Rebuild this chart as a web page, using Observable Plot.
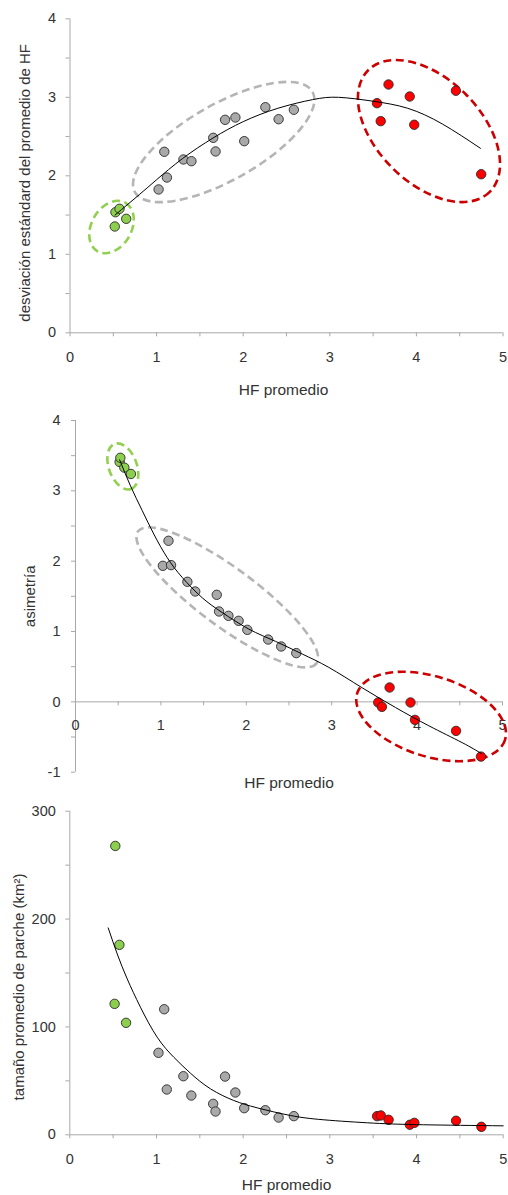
<!DOCTYPE html>
<html>
<head>
<meta charset="utf-8">
<script src="https://cdn.jsdelivr.net/npm/d3@7"></script>
<script src="https://cdn.jsdelivr.net/npm/@observablehq/plot@0.6"></script>
<style>
  body { margin: 0; background: #fff; }
  #c { width: 508px; }
  #c > svg { display: block; }
</style>
</head>
<body>
<div id="c"></div>
<script>
// ---------- data ----------
const grupos = ["verde","verde","verde","verde",
  "gris","gris","gris","gris","gris","gris","gris","gris","gris","gris","gris","gris","gris",
  "rojo","rojo","rojo","rojo","rojo","rojo","rojo"];
const hfPromedio = [0.517, 0.525, 0.572, 0.649,
  1.023, 1.089, 1.119, 1.310, 1.402, 1.654, 1.681, 1.791, 1.910, 2.012, 2.256, 2.409, 2.585,
  3.545, 3.588, 3.678, 3.923, 3.975, 4.456, 4.748];
const desviacion = [1.354, 1.536, 1.580, 1.452,
  1.826, 2.306, 1.978, 2.208, 2.186, 2.484, 2.310, 2.713, 2.743, 2.441, 2.874, 2.721, 2.841,
  2.925, 2.696, 3.163, 3.010, 2.650, 3.083, 2.020];
const asimetria = [3.41, 3.47, 3.33, 3.24,
  1.934, 2.290, 1.944, 1.707, 1.569, 1.522, 1.285, 1.223, 1.152, 1.024, 0.886, 0.787, 0.693,
  -0.009, -0.071, 0.204, -0.009, -0.256, -0.413, -0.778];
const tamano = [121.4, 267.8, 176.1, 103.8,
  76.0, 116.4, 42.0, 54.3, 36.4, 28.7, 21.6, 54.0, 39.2, 24.7, 22.8, 16.0, 17.3,
  17.3, 17.9, 13.9, 9.3, 11.1, 13.0, 7.4];

// trend lines
const tend1X = [0.52, 0.8, 1.0, 1.3, 1.65, 2.0, 2.4, 2.8, 3.1, 3.5, 3.9, 4.3, 4.74];
const tend1Y = [1.50, 1.76, 1.95, 2.22, 2.48, 2.69, 2.86, 2.97, 3.00, 2.95, 2.86, 2.66, 2.35];
const tend2X = [0.517, 0.644, 0.781, 0.917, 1.074, 1.249, 1.484, 1.718, 2.029, 2.342, 2.655, 2.966, 3.357, 3.747, 4.137, 4.528, 4.76];
const tend2Y = [3.44, 3.07, 2.72, 2.385, 2.05, 1.77, 1.48, 1.27, 1.035, 0.86, 0.68, 0.49, 0.20, -0.08, -0.34, -0.58, -0.74];
const tend3X = [0.443, 0.547, 0.662, 0.815, 1.008, 1.2, 1.392, 1.623, 1.892, 2.162, 2.546, 2.93, 3.506, 4.083, 5.0];
const tend3Y = [191.8, 167.7, 144.6, 118.3, 90.5, 71.9, 57.1, 42.6, 31.8, 25.0, 17.9, 13.9, 10.8, 9.3, 8.3];

// group ellipses: centres in data units
const elipses1 = [{grupo: "verde", x: 0.485, y: 1.341}, {grupo: "gris", x: 1.781, y: 2.424}, {grupo: "rojo", x: 4.151, y: 2.564}];
const elipses2 = [{grupo: "verde", x: 0.56, y: 3.34}, {grupo: "gris", x: 1.783, y: 1.479}, {grupo: "rojo", x: 4.17, y: -0.215}];

const xMajor = [0, 1, 2, 3, 4, 5];
const xMinor = [0, 0.5, 1, 1.5, 2, 2.5, 3, 3.5, 4, 4.5, 5];

// ---------- styles ----------
const FONT = '"Liberation Sans", Arial, Helvetica, sans-serif';
const AXIS = "#a8a8a8";
const INK = "#333";
const colorScale = {domain: ["verde", "gris", "rojo"], range: ["#8ccf4d", "#a9a9a9", "#ff0000"]};
const elipseColor = {verde: "#92d050", gris: "#b5b5b5", rojo: "#cc0000"};
const forma1 = [{rx: 28, ry: 20, rot: -60}, {rx: 102, ry: 38, rot: -29.5}, {rx: 86, ry: 52, rot: 45}];
const forma2 = [{rx: 24, ry: 14, rot: 70}, {rx: 111, ry: 29, rot: 36.5}, {rx: 77.5, ry: 40, rot: 17.5}];

const datos = hfPromedio.map((hf, i) => ({grupo: grupos[i], hf, sd: desviacion[i], asim: asimetria[i], tam: tamano[i]}));
const serie = (xs, ys) => xs.map((x, i) => ({x, y: ys[i]}));

function elipses(items, formas) {
  return (index, scales) => {
    const g = d3.create("svg:g")
      .attr("fill", "none")
      .attr("stroke-width", 2.6)
      .attr("stroke-dasharray", "8,4.5");
    items.forEach((e, i) => {
      const f = formas[i];
      g.append("ellipse")
        .attr("transform", `translate(${scales.x(e.x)},${scales.y(e.y)}) rotate(${f.rot})`)
        .attr("rx", f.rx)
        .attr("ry", f.ry)
        .attr("stroke", elipseColor[e.grupo]);
    });
    return g.node();
  };
}

const baseStyle = {fontFamily: FONT, fontSize: "14.5px", color: INK, background: "#fff", overflow: "visible"};
const dotOpts = (y) => ({x: "hf", y, fill: "grupo", stroke: "#2a2a2a", strokeWidth: 0.9, r: 4.7});
const lineOpts = {x: "x", y: "y", curve: "natural", stroke: "#000", strokeWidth: 1};
const yTitle = (t, dx, dy) => Plot.text([t], {text: d => d, frameAnchor: "left", textAnchor: "middle", lineAnchor: "middle", dx, dy, rotate: -90, fontSize: 15, fill: INK});
const xTitle = (dx, dy) => Plot.text(["HF promedio"], {text: d => d, frameAnchor: "bottom", textAnchor: "middle", lineAnchor: "middle", dx, dy, fontSize: 15.5, fill: INK});

// ---------- panel 1 ----------
const p1 = Plot.plot({
  width: 508, height: 400,
  marginLeft: 69.5, marginRight: 5.5, marginTop: 18.3, marginBottom: 67.7,
  style: baseStyle,
  x: {domain: [0, 5], label: null},
  y: {domain: [0, 4], label: null},
  color: colorScale,
  marks: [
    Plot.ruleX([0], {stroke: AXIS}),
    Plot.ruleY([0], {stroke: AXIS}),
    Plot.axisY({ticks: [0, 0.5, 1, 1.5, 2, 2.5, 3, 3.5, 4], tickSize: 4, fill: "none", stroke: AXIS}),
    Plot.axisY({ticks: [0, 1, 2, 3, 4], tickSize: 0, tickPadding: 14, label: null, fill: INK, tickFormat: d => String(d)}),
    Plot.axisX({ticks: xMinor, tickSize: 4, fill: "none", stroke: AXIS}),
    Plot.axisX({ticks: xMajor, tickSize: 0, tickPadding: 19, label: null, fill: INK, tickFormat: d => String(d)}),
    yTitle("desviación estándard del promedio de HF", -44.5, 7),
    xTitle(-3, 57.7),
    elipses(elipses1, forma1),
    Plot.dot(datos, dotOpts("sd")),
    Plot.line(serie(tend1X, tend1Y), lineOpts)
  ]
});

// ---------- panel 2 ----------
const p2 = Plot.plot({
  width: 508, height: 395,
  marginLeft: 75, marginRight: 6, marginTop: 20, marginBottom: 23.3,
  style: baseStyle,
  x: {domain: [0, 5], label: null, axis: null},
  y: {domain: [-1, 4], label: null},
  color: colorScale,
  marks: [
    Plot.ruleX([0], {stroke: AXIS}),
    Plot.ruleY([0], {stroke: AXIS}),
    Plot.axisY({ticks: [-1, -0.5, 0, 0.5, 1, 1.5, 2, 2.5, 3, 3.5, 4], tickSize: 4, fill: "none", stroke: AXIS}),
    Plot.axisY({ticks: [-1, 0, 1, 2, 3, 4], tickSize: 0, tickPadding: 15, label: null, fill: INK, tickFormat: d => String(d)}),
    Plot.ruleX(xMinor, {x: d => d, y1: 0, y2: 0, insetBottom: -4, stroke: AXIS}),
    Plot.text(xMajor, {x: d => d, y: 0, dy: 23, text: d => String(d), fill: INK}),
    yTitle("asimetría", -45, 0),
    xTitle(0, 11.3),
    elipses(elipses2, forma2),
    Plot.dot(datos, dotOpts("asim")),
    Plot.line(serie(tend2X, tend2Y), lineOpts)
  ]
});

// ---------- panel 3 ----------
const p3 = Plot.plot({
  width: 508, height: 400,
  marginLeft: 69.3, marginRight: 5.3, marginTop: 15.7, marginBottom: 60.7,
  style: baseStyle,
  x: {domain: [0, 5], label: null},
  y: {domain: [0, 300], label: null},
  color: colorScale,
  marks: [
    Plot.ruleX([0], {stroke: AXIS}),
    Plot.ruleY([0], {stroke: AXIS}),
    Plot.axisY({ticks: [0, 50, 100, 150, 200, 250, 300], tickSize: 4, fill: "none", stroke: AXIS}),
    Plot.axisY({ticks: [0, 100, 200, 300], tickSize: 0, tickPadding: 14, label: null, fill: INK, tickFormat: d => String(d)}),
    Plot.axisX({ticks: xMinor, tickSize: 4, fill: "none", stroke: AXIS}),
    Plot.axisX({ticks: xMajor, tickSize: 0, tickPadding: 19, label: null, fill: INK, tickFormat: d => String(d)}),
    yTitle("tamaño promedio de parche (km²)", -50.6, 14),
    xTitle(0, 50.7),
    Plot.dot(datos, dotOpts("tam")),
    Plot.line(serie(tend3X, tend3Y), lineOpts)
  ]
});

const c = document.getElementById("c");
c.append(p1, p2, p3);
</script>
</body>
</html>
